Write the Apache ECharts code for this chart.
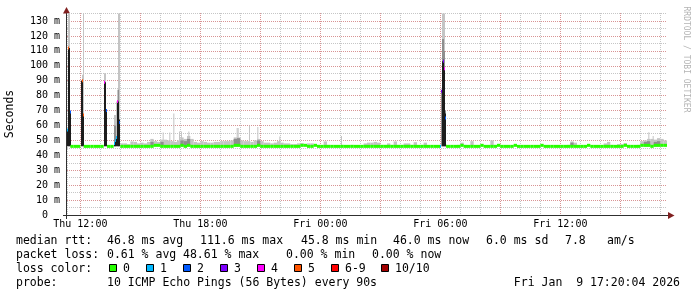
<!DOCTYPE html>
<html><head><meta charset="utf-8">
<script src="https://cdn.jsdelivr.net/npm/echarts@6/dist/echarts.min.js"></script>
<style>html,body{margin:0;padding:0;background:#fff}#c{width:697px;height:297px}</style>
</head><body><div id="c"></div>
<script>
// ---- time: minutes since Thu 00:00 ----
const timeStart = 680;   // Thu 11:20
const timeEnd = 2480;    // Fri 17:20
const baseStep = 10;     // minutes per base sample
const eventStep = 3;     // minutes per fine sample
const smokeFloor = 46;   // bottom of the smoke (ms)

// median rtt (ms) per 10-minute sample, null where the fine samples take over
const baseMedian = [
 null,46,46,46,null,46,46,46,46,46,
 46,null,46,46,null,null,46,46,46,46,
 46,46,46,46,46,46,46.7,46.7,46,46,
 46,46,46,46,46.7,46,46.7,46,46,46,
 46,46,46,46,46,46,46,46,46,46,
 46.7,46.7,46,46,46,46,46,46.7,46,46,
 46,46,46,46,46,46,46,46,46,46,
 46.7,46.7,46,46,46.7,46,46,46,46,46,
 46,46,46,46,46,46,46,46,46,46,
 46,46,46,46,46,46,46,46,46,46,
 46,46,46,46,46,46,46,46,46,46,
 46,46,null,null,46,46,46,46,46.7,46,
 46,46,46,46,46.7,46,46,46,46,46.7,
 46,46,46,46,46.7,46,46,46,46,46,
 46,46,46.7,46,46,46,46,46,46,46,
 46,46,46,46,46,46,46.7,46,46,46,
 46,46,46,46,46,46,46,46.7,46,46,
 46,46,46.7,46.7,46.7,46,46.7,46.7,46.7,46.7
];
// light smoke top (max ping, ms) per 10-minute sample
const baseSmoke = [
 null,null,null,null,null,null,null,null,null,null,
 null,null,null,null,null,null,48,48,47.5,49.3,
 49,48,48.5,48,49,51,49.5,49,50.5,50.5,
 50,49.5,49,50,52,51,53,51,49,48.5,
 49.5,49,48.5,48.5,49,49,49.5,49.5,49.5,50,
 52,52,50,49.5,49.5,49,50,51,49.5,48.5,
 48.5,48,48.5,49.5,48.5,48,48,47.5,47.5,48,
 48.2,47,48,48,47,47,46.5,49.3,47,46.5,
 46.5,46.5,47,46.5,46.5,47,46.5,46.5,46.5,48,
 48.5,48.5,49,48.5,47,47,48,47,49.3,47,
 47,48,48,47,48.8,46.5,47,48.5,46.5,46.5,
 46.5,46.5,null,null,46.5,46.5,46.5,47,48.5,47,
 46.5,49.5,46.5,46.5,47,46.5,46.5,50,47,47,
 46.5,46.5,46.5,46.5,46.5,46.5,46.5,46.5,46.5,46.5,
 46.5,46.5,47,46.5,46.5,46.5,46.5,46.5,46.5,46.5,
 47,49.3,48.5,46.5,46.5,46.5,47,46.5,46.5,46.5,
 46.5,48,49,47,46.5,47.5,47.5,48.2,47,46.5,
 46.5,47,49.5,50,51,51,50.5,51.5,51,50
];
// darker smoke top per 10-minute sample
const baseMid = [
 null,null,null,null,null,null,null,null,null,null,
 null,null,null,null,null,null,null,null,null,null,
 null,null,null,null,null,49,null,null,49,null,
 null,null,null,null,50,49.5,51,null,null,null,
 null,null,null,null,null,null,null,null,null,null,
 51,51.5,null,null,null,null,null,50,null,null,
 null,null,null,null,null,null,null,null,null,null,
 null,null,null,null,null,null,null,null,null,null,
 null,null,null,null,null,null,null,null,null,null,
 null,null,null,null,null,null,null,null,null,null,
 null,null,null,null,null,null,null,null,null,null,
 null,null,null,null,null,null,null,null,null,null,
 null,null,null,null,null,null,null,null,null,null,
 null,null,null,null,null,null,null,null,null,null,
 null,null,null,null,null,null,null,null,null,null,
 null,48.5,null,null,null,null,null,null,null,null,
 null,null,null,null,null,null,null,null,null,null,
 null,null,null,49,49.5,null,49,49.5,null,null
];

// fine (3-minute) samples: spikes and thin smoke needles
const eventTime   = [680,683,686,689, 722,725,728, 791,794,797, 821,824,827,830,833,836,
                     1799,1802,1805,1808,1811,1814,1817,
                     967,987,999,1016,1022,1044,1189,1192,1226,1251,1317,1502,2424,2437];
const eventLight  = [57,135,135,69, 90,94,135, 95,95,70, 67,67,76,84,135,135,
                     null,83,135,135,135,70,null,
                     55.3,55.3,68,56,56,56,58.3,58.3,59.8,59,52.6,53,55.5,53];
const eventMid    = [null,null,null,null, null,null,null, null,null,null, 60,60,null,null,84,null,
                     null,83,118,118,110,70,null,
                     null,null,null,null,null,null,null,null,null,null,null,null,null,null];
const eventDark   = [57,112,112,69, 90,90,67, 89,89,70, 48,50,52,76,76,64,
                     null,null,103,104,98,68,null,
                     null,null,null,null,null,null,null,null,null,null,null,null,null,null];
const eventMedian = [57,112,null,69, null,90,67, 89,null,70, 48,50,52,76,null,62,
                     46,83,null,103,98,65,46,
                     null,null,null,null,null,null,null,null,null,null,null,null,null,null];
const eventLoss   = [1,5,null,2, null,5,5, 4,null,2, 1,1,1,4,null,2,
                     1,3,null,3,4,2,0,
                     null,null,null,null,null,null,null,null,null,null,null,null,null,null];

const lossColors = ['#26ff00','#00b8ff','#0059ff','#7e00ff','#ff00ff','#ff5500','#ff0000','#a10000'];
const lossLabels = ['0','1','2','3','4','5','6-9','10/10'];
const xLabelValues = [720,1080,1440,1800,2160];
const xLabelTexts = ['Thu 12:00','Thu 18:00','Fri 00:00','Fri 06:00','Fri 12:00'];
const yMax = 135.4;
const rttTitle = 'median rtt:';
const rttStats = ['46.8 ms avg','111.6 ms max','45.8 ms min','46.0 ms now','6.0 ms sd','7.8','am/s'];
const lossTitle = 'packet loss:';
const lossStats = ['0.61 % avg','48.61 % max','0.00 % min','0.00 % now'];
const colorTitle = 'loss color:';
const probeTitle = 'probe:';
const probeText = '10 ICMP Echo Pings (56 Bytes) every 90s';
const dateText = 'Fri Jan  9 17:20:04 2026';
const yTitle = 'Seconds';
const watermark = 'RRDTOOL / TOBI OETIKER';

// ---- build layers ----
function lossIndex(k){ return k <= 5 ? k : (k < 10 ? 6 : 7); }
const lightData = [], midData = [], darkData = [], medData = [];
baseMedian.forEach((m, i) => {
  const t0 = timeStart + i * baseStep, t1 = t0 + baseStep;
  if (baseSmoke[i] != null) lightData.push([t0, t1, smokeFloor, baseSmoke[i]]);
  if (baseMid[i] != null) midData.push([t0, t1, smokeFloor, baseMid[i]]);
  if (m != null) medData.push([t0, t1, m, 0]);
});
eventTime.forEach((t0, j) => {
  const t1 = t0 + eventStep;
  if (eventLight[j] != null) lightData.push([t0, t1, smokeFloor, eventLight[j]]);
  if (eventMid[j] != null) midData.push([t0, t1, smokeFloor, eventMid[j]]);
  if (eventDark[j] != null) darkData.push([t0, t1, smokeFloor, eventDark[j]]);
  if (eventMedian[j] != null) medData.push([t0, t1, eventMedian[j], lossIndex(eventLoss[j])]);
});

function rectSeries(data, color){
  return {
    type: 'custom', coordinateSystem: 'cartesian2d',
    encode: {x: [0, 1], y: [2, 3]}, data, silent: true, clip: true,
    renderItem: (params, api) => {
      const p0 = api.coord([api.value(0), api.value(3)]);
      const p1 = api.coord([api.value(1), api.value(2)]);
      return {type: 'rect', shape: {x: p0[0], y: p0[1], width: p1[0] - p0[0], height: p1[1] - p0[1]},
              style: {fill: color}};
    }
  };
}
const medSeries = {
  type: 'custom', coordinateSystem: 'cartesian2d',
  encode: {x: [0, 1], y: [2]}, data: medData, silent: true, clip: true,
  renderItem: (params, api) => {
    const p0 = api.coord([api.value(0), api.value(2)]);
    const p1 = api.coord([api.value(1), api.value(2)]);
    return {type: 'line', shape: {x1: p0[0], y1: p0[1], x2: p1[0], y2: p1[1]},
            style: {stroke: lossColors[api.value(3)], lineWidth: 3, lineCap: 'butt'}};
  }
};

const mono = 'DejaVu Sans Mono';
const minorC = '#c6c6c6';
const majorC = '#d89494';

// ---- graphic (frame, legend) ----
const G = [];
function txt(x, y, s, opt){ G.push(Object.assign({type: 'text', x, y, silent: true,
  style: {text: s, font: '11.5px "' + mono + '"', fill: '#000', align: 'left', verticalAlign: 'middle'}}, opt || {})); }
// axes
G.push({type: 'line', silent: true, shape: {x1: 63, y1: 215.5, x2: 669, y2: 215.5}, style: {stroke: '#303030', lineWidth: 1}});
G.push({type: 'line', silent: true, shape: {x1: 66.5, y1: 219, x2: 66.5, y2: 12}, style: {stroke: '#303030', lineWidth: 1}});
G.push({type: 'polygon', silent: true, shape: {points: [[63, 13.5], [70, 13.5], [66.5, 7]]}, style: {fill: '#802020'}});
G.push({type: 'polygon', silent: true, shape: {points: [[668, 212], [668, 219], [674.5, 215.5]]}, style: {fill: '#802020'}});
// titles
G.push({type: 'text', x: 10.5, y: 114, rotation: Math.PI / 2, silent: true,
  style: {text: yTitle, font: '11.5px "' + mono + '"', fill: '#000', align: 'center', verticalAlign: 'middle'}});
G.push({type: 'text', x: 686, y: 59.5, rotation: -Math.PI / 2, silent: true,
  style: {text: watermark, font: '8px "' + mono + '"', fill: '#b4b4b4', align: 'center', verticalAlign: 'middle'}});
// legend rows
const rttX = [107, 200, 301, 393, 486, 565, 607];
txt(16, 241, rttTitle);
rttStats.forEach((s, k) => txt(rttX[k], 241, s));
const lossX = [107, 183, 286, 372];
txt(16, 255.5, lossTitle);
lossStats.forEach((s, k) => txt(lossX[k], 255.5, s));
txt(16, 269, colorTitle);
const boxX = [109, 146, 183, 220, 257, 294, 331, 381];
lossLabels.forEach((s, k) => {
  G.push({type: 'rect', silent: true, shape: {x: boxX[k] + 0.5, y: 264.5, width: 7, height: 7},
          style: {fill: lossColors[k], stroke: '#000', lineWidth: 1}});
  txt(boxX[k] + 14, 269, s);
});
txt(16, 283.5, probeTitle);
txt(107, 283.5, probeText);
txt(680, 283.5, dateText, {style: {text: dateText, font: '11.5px "' + mono + '"', fill: '#000', align: 'right', verticalAlign: 'middle'}});

const chart = echarts.init(document.getElementById('c'), null, {renderer: 'canvas', width: 697, height: 297});
chart.setOption({
  animation: false,
  backgroundColor: '#ffffff',
  grid: {left: 67, right: 30, top: 13, bottom: 82, containLabel: false},
  xAxis: {
    type: 'value', min: timeStart, max: timeEnd, splitNumber: 30, minInterval: 60, maxInterval: 60,
    axisLine: {show: false}, axisTick: {show: false},
    axisLabel: {show: true, margin: 4, color: '#000', fontFamily: mono, fontSize: 10,
                showMinLabel: false, showMaxLabel: false,
                formatter: v => { const k = xLabelValues.indexOf(Math.round(v)); return k >= 0 ? xLabelTexts[k] : ''; }},
    // ticks: 11:20 (edge), 12:00, 13:00, ... -> every third hour from 12:00 is a major line
    splitLine: {show: true, showMinLine: true, showMaxLine: false,
                lineStyle: {color: [minorC, majorC, minorC], type: [1, 1], width: 1}}
  },
  yAxis: {
    type: 'value', min: 0, max: yMax, interval: 5,
    axisLine: {show: false}, axisTick: {show: false},
    axisLabel: {margin: 7, color: '#000', fontFamily: mono, fontSize: 10, showMaxLabel: false,
                formatter: v => v === 0 ? '0  ' : (Math.abs(v % 10) < 1e-6 ? v + ' m' : '')},
    // 0 skipped -> 5 minor, 10 major, 15 minor ...
    splitLine: {show: true, showMinLine: false, showMaxLine: false,
                lineStyle: {color: [minorC, majorC], type: [1, 1], width: 1}}
  },
  series: [
    rectSeries(lightData, '#c4c4c4'),
    rectSeries(midData, '#8e8e8e'),
    rectSeries(darkData, '#1c1c1c'),
    medSeries
  ],
  graphic: G
});
</script></body></html>
